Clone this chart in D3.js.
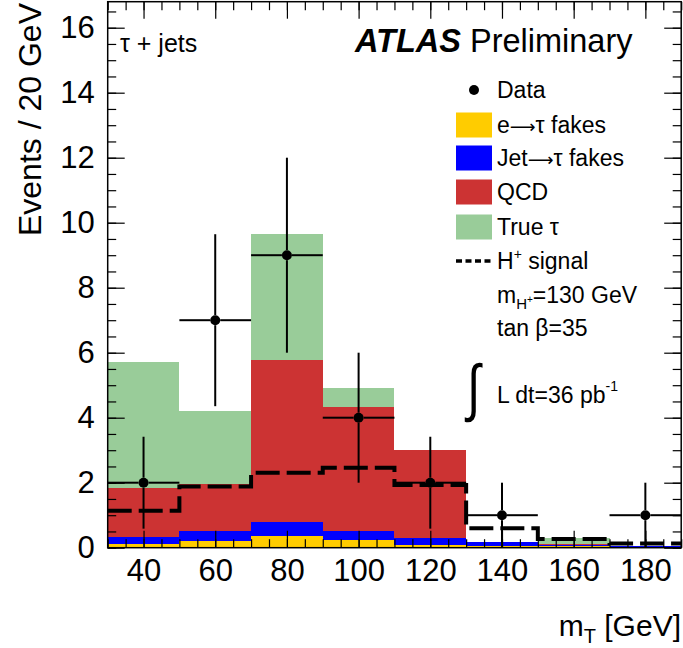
<!DOCTYPE html>
<html>
<head>
<meta charset="utf-8">
<script src="https://cdn.jsdelivr.net/npm/d3@7"></script>
<style>
  body { margin: 0; background: #fff; }
  svg { display: block; font-family: "Liberation Sans", Arial, Helvetica, sans-serif; }
</style>
</head>
<body>
<svg id="chart" width="683" height="648"></svg>
<script>
// Transverse mass distribution, tau + jets channel, 20 GeV bins
const binEdges   = [30, 50, 70, 90, 110, 130, 150, 170, 190];
const eFakes     = [0.12, 0.22, 0.37, 0.24, 0.08, 0.06, 0.04, 0.02];
const jetFakes   = [0.20, 0.28, 0.42, 0.26, 0.23, 0.11, 0.04, 0.03];
const qcd        = [1.51, 1.45, 4.99, 3.84, 2.69, 0.02, 0.02, 0.01];
const trueTau    = [3.88, 2.27, 3.87, 0.56, 0.02, 0.00, 0.21, 0.00];
const signal     = [1.14, 1.88, 2.31, 2.46, 1.93, 0.60, 0.27, 0.13];
const dataCounts = [2, 7, 9, 4, 2, 1, 0, 1];

const xTicks      = [40, 60, 80, 100, 120, 140, 160, 180];
const xMinorTicks = d3.range(30, 190.1, 5);
const yTicks      = [0, 2, 4, 6, 8, 10, 12, 14, 16];
const yMinorTicks = d3.range(0, 16.81, 0.5);

const seriesKeys   = ["eFakes", "jetFakes", "qcd", "trueTau"];
const seriesColors = ["#ffcc00", "#0000ff", "#cc3333", "#99cc99"];
const legendLabels = [["e", "\u27f6", "\u03c4 fakes"], ["Jet", "\u27f6", "\u03c4 fakes"], ["QCD"], ["True \u03c4"]];

const bins = binEdges.slice(0, -1).map((lo, i) => ({
  lo, hi: binEdges[i + 1],
  eFakes: eFakes[i], jetFakes: jetFakes[i], qcd: qcd[i], trueTau: trueTau[i],
  signal: signal[i], data: dataCounts[i]
}));

const svg = d3.select("#chart");
const x = d3.scaleLinear().domain([30, 190]).range([107.7, 681.2]);
const y = d3.scaleLinear().domain([0, 16.8]).range([547.7, 1.7]);

// Stacked background histograms
const stacked = d3.stack().keys(seriesKeys)(bins);
svg.append("g").selectAll("g")
  .data(stacked).join("g")
  .attr("fill", (d, i) => seriesColors[i])
  .selectAll("rect")
  .data(d => d).join("rect")
  .attr("shape-rendering", "crispEdges")
  .attr("x", d => x(d.data.lo))
  .attr("width", d => x(d.data.hi) - x(d.data.lo))
  .attr("y", d => y(d[1]))
  .attr("height", d => Math.max(0, y(d[0]) - y(d[1])));

// Signal histogram outline
const sigPts = [];
bins.forEach(b => { sigPts.push([b.lo, b.signal]); sigPts.push([b.hi, b.signal]); });
svg.append("path")
  .attr("d", d3.line().x(d => x(d[0])).y(d => y(d[1]))(sigPts))
  .attr("fill", "none")
  .attr("stroke", "#000")
  .attr("stroke-width", 4)
  .attr("stroke-dasharray", "24,7");

// Data points with Poisson errors
const pts = bins.filter(b => b.data > 0);
const gData = svg.append("g").attr("stroke", "#000").attr("stroke-width", 2);
const r = 5;
pts.forEach(b => {
  const cx = x((b.lo + b.hi) / 2), cy = y(b.data), e = Math.sqrt(b.data);
  gData.append("line").attr("x1", cx).attr("x2", cx).attr("y1", y(b.data + e)).attr("y2", cy - r);
  gData.append("line").attr("x1", cx).attr("x2", cx).attr("y1", cy + r).attr("y2", y(b.data - e));
  gData.append("line").attr("x1", x(b.lo)).attr("x2", cx - r).attr("y1", cy).attr("y2", cy);
  gData.append("line").attr("x1", cx + r).attr("x2", x(b.hi)).attr("y1", cy).attr("y2", cy);
});
svg.append("g").selectAll("circle").data(pts).join("circle")
  .attr("cx", b => x((b.lo + b.hi) / 2)).attr("cy", b => y(b.data)).attr("r", r)
  .attr("fill", "#000");

// Frame and inward ticks on all four sides
const [x0, x1] = x.range(), [y0, y1] = y.range();
function styleAxis(g) {
  g.select(".domain").remove();
  g.selectAll(".tick line").attr("stroke", "#000").attr("stroke-width", 1.2);
  g.selectAll(".tick text").attr("fill", "#000").attr("font-size", 31)
    .attr("font-family", "Liberation Sans, Arial, sans-serif");
}
svg.append("g").attr("transform", `translate(0,${y0})`)
  .call(d3.axisBottom(x).tickValues(xMinorTicks).tickSize(-8.5).tickFormat("")).call(styleAxis);
svg.append("g").attr("transform", `translate(0,${y0})`)
  .call(d3.axisBottom(x).tickValues(xTicks).tickSize(-17).tickSizeOuter(0).tickPadding(11).tickFormat(d3.format("d")))
  .call(styleAxis);
svg.append("g").attr("transform", `translate(0,${y1})`)
  .call(d3.axisTop(x).tickValues(xMinorTicks).tickSize(-8.5).tickFormat("")).call(styleAxis);
svg.append("g").attr("transform", `translate(0,${y1})`)
  .call(d3.axisTop(x).tickValues(xTicks).tickSize(-17).tickFormat("")).call(styleAxis);
svg.append("g").attr("transform", `translate(${x0},0)`)
  .call(d3.axisLeft(y).tickValues(yMinorTicks).tickSize(-8.5).tickFormat("")).call(styleAxis);
svg.append("g").attr("transform", `translate(${x0},0)`)
  .call(d3.axisLeft(y).tickValues(yTicks).tickSize(-17).tickSizeOuter(0).tickPadding(13).tickFormat(d3.format("d")))
  .call(styleAxis);
svg.append("g").attr("transform", `translate(${x1},0)`)
  .call(d3.axisRight(y).tickValues(yMinorTicks).tickSize(-8.5).tickFormat("")).call(styleAxis);
svg.append("g").attr("transform", `translate(${x1},0)`)
  .call(d3.axisRight(y).tickValues(yTicks).tickSize(-17).tickFormat("")).call(styleAxis);
svg.append("rect").attr("x", x0).attr("y", y1).attr("width", x1 - x0).attr("height", y0 - y1)
  .attr("fill", "none").attr("stroke", "#000").attr("stroke-width", 1.5);

// Axis titles
svg.append("text")
  .attr("transform", "translate(41,3) rotate(-90)")
  .attr("text-anchor", "end").attr("font-size", 32)
  .text("Events / 20 GeV");
const xt = svg.append("text").attr("x", 681).attr("y", 636)
  .attr("text-anchor", "end").attr("font-size", 30);
xt.append("tspan").text("m");
xt.append("tspan").attr("font-size", 20).attr("dy", 7).text("T");
xt.append("tspan").attr("dy", -7).text(" [GeV]");

// Labels inside the frame
svg.append("text").attr("x", 120).attr("y", 52).attr("font-size", 25).text("\u03c4 + jets");
const atl = svg.append("text").attr("x", 355).attr("y", 52).attr("font-size", 32.5);
atl.append("tspan").attr("font-weight", "bold").attr("font-style", "italic").text("ATLAS");
atl.append("tspan").text(" Preliminary");

// Legend
const lg = svg.append("g").attr("font-size", 23);
const tx = 497, sx = 456, sw = 36, sh = 25;
lg.append("circle").attr("cx", 474).attr("cy", 90).attr("r", 5).attr("fill", "#000");
lg.append("text").attr("x", tx).attr("y", 90).attr("dy", "0.36em").text("Data");
const rowY = [125, 158, 192, 227];
seriesKeys.forEach((k, i) => {
  lg.append("rect").attr("x", sx).attr("y", rowY[i] - sh / 2).attr("width", sw).attr("height", sh)
    .attr("fill", seriesColors[i]);
  const t = lg.append("text").attr("x", tx).attr("y", rowY[i]).attr("dy", "0.36em");
  legendLabels[i].forEach(part => {
    const s = t.append("tspan").text(part);
    if (part === "\u27f6") s.attr("font-family", "DejaVu Sans, sans-serif").attr("font-size", 18);
  });
});
lg.append("line").attr("x1", sx).attr("x2", sx + sw).attr("y1", 261).attr("y2", 261)
  .attr("stroke", "#000").attr("stroke-width", 3.5).attr("stroke-dasharray", "6,3.5");
const hs = lg.append("text").attr("x", tx).attr("y", 269);
hs.append("tspan").text("H");
hs.append("tspan").attr("font-size", 14).attr("dy", -10).text("+");
hs.append("tspan").attr("dy", 10).text(" signal");
const mh = lg.append("text").attr("x", tx).attr("y", 303);
mh.append("tspan").text("m");
mh.append("tspan").attr("font-size", 15).attr("dy", 6).text("H");
mh.append("tspan").attr("font-size", 10).attr("dy", -6).text("+");
mh.append("tspan").text("=130 GeV");
lg.append("text").attr("x", tx).attr("y", 336).text("tan \u03b2=35");
lg.append("text").attr("transform", "translate(467,409) scale(0.8,1.05)").attr("font-size", 60)
  .attr("font-family", "DejaVu Sans, sans-serif").attr("font-weight", 200).text("\u222b");
const lum = lg.append("text").attr("x", tx).attr("y", 403);
lum.append("tspan").text("L dt=36 pb");
lum.append("tspan").attr("font-size", 14).attr("dy", -12).text("-1");
</script>
</body>
</html>
